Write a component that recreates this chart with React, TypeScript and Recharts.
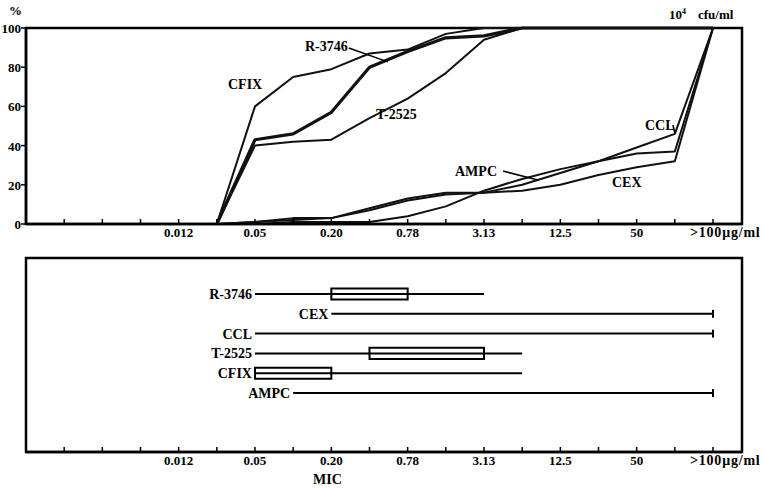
import React from 'react';
import { LineChart, Line, XAxis, YAxis, ReferenceArea, ReferenceLine, ComposedChart, Scatter } from 'recharts';

// MIC dilution steps as positions on a log2 axis (0.012 = 4, >100 = 18)
const micIdx = [5, 6, 7, 8, 9, 10, 11, 12, 13, 14, 15, 16, 17, 18];
const cfix = [0, 60, 75, 79, 87, 89, 97, 100, 100, 100, 100, 100, 100, 100];
const r3746 = [0, 43, 46, 57, 80, 88, 95, 96, 100, 100, 100, 100, 100, 100];
const t2525 = [0, 40, 42, 43, 54, 64, 77, 94, 100, 100, 100, 100, 100, 100];
const ccl = [0, 0, 1, 1, 1, 4, 9, 17, 23, 28, 32, 39, 46, 100];
const ampc = [0, 1, 3, 3, 8, 13, 16, 16, 20, 26, 32, 36, 37, 100];
const cex = [0, 1, 2, 3, 7, 12, 15, 16, 17, 20, 25, 29, 32, 100];

const xTicks = [1, 2, 3, 4, 5, 6, 7, 8, 9, 10, 11, 12, 13, 14, 15, 16, 17, 18];
const xTickLabels: Record<number, string> = {
  4: '0.012', 6: '0.05', 8: '0.20', 10: '0.78', 12: '3.13', 14: '12.5', 16: '50', 18: '>100μg/ml',
};
const pctTicks = [0, 20, 40, 60, 80, 100];

// bottom panel: MIC ranges
const drugs = ['R-3746', 'CEX', 'CCL', 'T-2525', 'CFIX', 'AMPC'];
const rowPos = [6, 5, 4, 3, 2, 1];
const micMin = [6, 8, 6, 6, 6, 7];
const micMax = [12, 18, 18, 13, 13, 18];
const boxLow: (number | null)[] = [8, null, null, 9, 6, null];
const boxHigh: (number | null)[] = [10, null, null, 12, 8, null];

const X_MAX = 18.76;
const FONT = '"Liberation Serif", "DejaVu Serif", serif';

const curveData = micIdx.map((x, i) => ({
  x, cfix: cfix[i], r3746: r3746[i], t2525: t2525[i], ccl: ccl[i], ampc: ampc[i], cex: cex[i],
}));

const rowData = drugs.map((name, i) => ({ name, x: micMin[i], y: rowPos[i] }));

const XTick = ({ x, y, payload }: any) => {
  const lab = xTickLabels[payload.value];
  const last = payload.value === 18;
  return (
    <g>
      <line x1={x} x2={x} y1={y} y2={y - 5} stroke="#000" strokeWidth={1.5} />
      {lab && (
        <text x={last ? x - 23 : x} y={y + 13} textAnchor={last ? 'start' : 'middle'}
          fontSize={last ? 14 : 13} letterSpacing={last ? 0.8 : 0} fontWeight="bold" fontFamily={FONT} fill="#000">
          {lab}
        </text>
      )}
    </g>
  );
};

const YTick = ({ x, y, payload }: any) => (
  <g>
    <line x1={x} x2={x - 5} y1={y} y2={y} stroke="#000" strokeWidth={1.5} />
    <text x={x - 5} y={y + 5} textAnchor="end" fontSize={13} fontWeight="bold" fontFamily={FONT} fill="#000">
      {payload.value}
    </text>
  </g>
);

const RowLabel = ({ cx, cy, payload }: any) => (
  <text x={cx - 3} y={cy + 5} textAnchor="end" fontSize={14} fontWeight="bold" fontFamily={FONT} fill="#000">
    {payload.name}
  </text>
);

const lbl = (left: number, top: number): React.CSSProperties => ({
  position: 'absolute', left, top, fontFamily: FONT, fontWeight: 'bold', fontSize: 14, lineHeight: '14px', whiteSpace: 'nowrap',
});

const lines = [
  { key: 'cfix', w: 2 },
  { key: 't2525', w: 2 },
  { key: 'r3746', w: 3.2 },
  { key: 'ccl', w: 2 },
  { key: 'ampc', w: 2 },
  { key: 'cex', w: 2 },
];

export default function App() {
  return (
    <div style={{ position: 'absolute', left: 0, top: 0, width: 764, height: 488, background: '#fff' }}>
      <div style={{ position: 'absolute', left: 0, top: 0 }}>
        <LineChart width={764} height={250} data={curveData} margin={{ top: 28, right: 22, bottom: 25, left: 25 }}>
          <ReferenceArea x1={0} x2={X_MAX} y1={0} y2={100} fill="none" stroke="#000" strokeWidth={2.5} />
          <XAxis dataKey="x" type="number" domain={[0, X_MAX]} ticks={xTicks} interval={0} height={1}
            tickSize={0} tickMargin={0} tick={<XTick />} axisLine={{ stroke: '#000', strokeWidth: 2.5 }} tickLine={false} />
          <YAxis type="number" domain={[0, 100]} ticks={pctTicks} width={1} interval={0}
            tickSize={0} tickMargin={0} tick={<YTick />} axisLine={{ stroke: '#000', strokeWidth: 2.5 }} tickLine={false} />
          {lines.map((l) => (
            <Line key={l.key} type="linear" dataKey={l.key} stroke="#111" strokeWidth={l.w} dot={false}
              isAnimationActive={false} strokeLinejoin="round" />
          ))}
          <ReferenceLine segment={[{ x: 8.46, y: 89.8 }, { x: 9.48, y: 82.7 }]} stroke="#000" strokeWidth={1.5} />
          <ReferenceLine segment={[{ x: 12.5, y: 27 }, { x: 13.41, y: 22.4 }]} stroke="#000" strokeWidth={1.5} />
          <ReferenceLine segment={[{ x: 16.95, y: 50.5 }, { x: 17.0, y: 46.4 }]} stroke="#000" strokeWidth={1.5} />
        </LineChart>
      </div>
      <span style={{ ...lbl(9, 4), fontSize: 13 }}>%</span>
      <span style={{ ...lbl(669, 8), fontSize: 13 }}>
        10<sup style={{ fontSize: 8, verticalAlign: 'top', lineHeight: '8px' }}>4</sup>
        <span style={{ marginLeft: 12 }}>cfu/ml</span>
      </span>
      <span style={lbl(228, 78)}>CFIX</span>
      <span style={lbl(305, 40)}>R-3746</span>
      <span style={lbl(376, 108)}>T-2525</span>
      <span style={lbl(645, 119)}>CCL</span>
      <span style={lbl(455, 165)}>AMPC</span>
      <span style={lbl(612, 176)}>CEX</span>

      <div style={{ position: 'absolute', left: 0, top: 250 }}>
        <ComposedChart width={764} height={238} data={rowData} margin={{ top: 8, right: 22, bottom: 35, left: 26 }}>
          <ReferenceArea x1={0} x2={X_MAX} y1={-1.98} y2={7.82} fill="none" stroke="#000" strokeWidth={2.5} />
          <XAxis dataKey="x" type="number" domain={[0, X_MAX]} ticks={xTicks} interval={0} height={1}
            tickSize={0} tickMargin={0} tick={<XTick />} axisLine={{ stroke: '#000', strokeWidth: 2.5 }} tickLine={false} />
          <YAxis dataKey="y" type="number" domain={[-1.98, 7.82]} hide width={0} />
          {drugs.map((d, i) => {
            const lo = boxLow[i];
            const hi = boxHigh[i];
            return (
              <React.Fragment key={d}>
                {lo !== null && hi !== null && (
                  <ReferenceArea x1={lo} x2={hi} y1={rowPos[i] - 0.28} y2={rowPos[i] + 0.28}
                    fill="none" fillOpacity={0} stroke="#000" strokeWidth={2} />
                )}
                <ReferenceLine segment={[{ x: micMin[i], y: rowPos[i] }, { x: micMax[i], y: rowPos[i] }]}
                  stroke="#000" strokeWidth={2} />
                {micMax[i] === 18 && (
                  <ReferenceLine segment={[{ x: 18, y: rowPos[i] - 0.2 }, { x: 18, y: rowPos[i] + 0.2 }]}
                    stroke="#000" strokeWidth={2} />
                )}
              </React.Fragment>
            );
          })}
          <Scatter data={rowData} shape={<RowLabel />} isAnimationActive={false} />
        </ComposedChart>
      </div>
      <span style={lbl(313, 473)}>MIC</span>
    </div>
  );
}
